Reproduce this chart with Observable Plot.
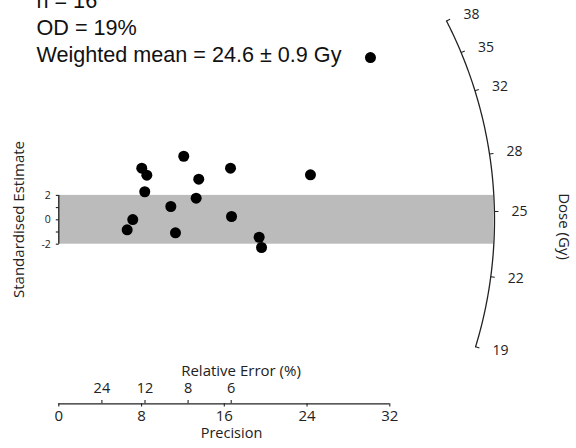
<!DOCTYPE html>
<html><head><meta charset="utf-8">
<script src="https://cdn.jsdelivr.net/npm/d3@7"></script>
<script src="https://cdn.jsdelivr.net/npm/@observablehq/plot@0.6"></script>
<style>body{margin:0;background:#fff} svg{display:block}</style>
</head><body><div id="chart"></div>
<script>
// ---- data ----
const precision = [6.61, 7.15, 8.02, 8.51, 8.31, 10.83, 11.28, 12.08, 13.53, 13.28, 16.6, 16.7, 19.37, 19.6, 24.33, 30.13];
const standardisedEstimate = [-0.82, 0.02, 4.23, 3.66, 2.30, 1.09, -1.07, 5.21, 3.33, 1.77, 4.23, 0.27, -1.43, -2.27, 3.69, 13.3];
const precisionTicks = [0, 8, 16, 24, 32];
const relErrorTicks = [24, 12, 8, 6];
const doseTicks = [19, 22, 25, 28, 32, 35, 38];
const stdTicks = [-2, -1, 0, 1, 2];
const stdTickLabels = [-2, 0, 2];
const centralDose = 24.6;
const bandLimit = 2;
const headerLines = ["n = 16", "OD = 19%", "Weighted mean = 24.6 \u00b1 0.9 Gy"];

// ---- layout ----
const W = 576, H = 448;
const xDomain = [0, 32], xRange = [58.3, 389.3];
const yDomain = [-2, 2], yRange = [243.7, 194.9];
const kx = (xRange[1] - xRange[0]) / (xDomain[1] - xDomain[0]);
const ky = (yRange[0] - yRange[1]) / (yDomain[1] - yDomain[0]);
const xOf = px => xDomain[0] + (px - xRange[0]) / kx;
const yOf = py => yDomain[0] + (yRange[0] - py) / ky;
const R = 435.7; // radius of the dose arc, px
const theta = d => Math.atan(Math.log(d / centralDose) * ky / kx);
const polar = (d, r) => ({x: r * Math.cos(theta(d)) / kx, y: r * Math.sin(theta(d)) / ky, d});

const points = precision.map((p, i) => ({x: p, y: standardisedEstimate[i]}));
const dMin = d3.min(doseTicks), dMax = d3.max(doseTicks);
const arc = d3.range(0, 121).map(i => polar(dMin * Math.pow(dMax / dMin, i / 120), R));
const doseTickSegs = doseTicks.map(d => ({a: polar(d, R), b: polar(d, R + 4)}));
const doseLabels = doseTicks.map(d => {
  const p = polar(d, R);
  return {x: p.x + 25 / kx, y: p.y + 14 * Math.sin(theta(d)) / ky, d};
});
const band = [{x1: 0, x2: Math.sqrt(R * R - (bandLimit * ky) ** 2) / kx, y1: -bandLimit, y2: bandLimit}];

const axisY0 = yOf(403.3);
const axisFont = "'Open Sans', 'Noto Sans', sans-serif";
const ink = "#222";

const chart = Plot.plot({
  width: W, height: H,
  marginTop: 0, marginRight: 0, marginBottom: 0, marginLeft: 0,
  x: {domain: xDomain, range: xRange, axis: null},
  y: {domain: yDomain, range: yRange, axis: null},
  style: {background: "#fff", overflow: "visible"},
  marks: [
    Plot.rect(band, {x1: "x1", x2: "x2", y1: "y1", y2: "y2", fill: "#bbbbbb"}),
    // y axis
    Plot.ruleX([0], {y1: -2, y2: 2, stroke: ink, strokeWidth: 1.3}),
    Plot.link(stdTicks, {x1: 0, x2: xOf(xRange[0] - 3), y1: d => d, y2: d => d, stroke: ink, strokeWidth: 1.1}),
    Plot.text(stdTickLabels, {x: 0, y: d => d, dx: -8, text: d => String(d), textAnchor: "end", fontSize: 10.5, fontFamily: axisFont, fill: ink}),
    Plot.text(["Standardised Estimate"], {x: xOf(19), y: yOf(219), rotate: -90, fontSize: 15, fontFamily: axisFont, fill: ink}),
    // precision / relative error axis
    Plot.ruleY([axisY0], {x1: xDomain[0], x2: xDomain[1], stroke: ink, strokeWidth: 1.3}),
    Plot.ruleX(precisionTicks, {x: d => d, y1: axisY0, y2: yOf(406.5), stroke: ink, strokeWidth: 1.1}),
    Plot.ruleX(relErrorTicks.map(r => 100 / r), {x: d => d, y1: axisY0, y2: yOf(400), stroke: ink, strokeWidth: 1.1}),
    Plot.text(precisionTicks, {x: d => d, y: axisY0, dy: 12.5, text: d => String(d), fontSize: 15, fontFamily: axisFont, fill: ink}),
    Plot.text(relErrorTicks, {x: d => 100 / d, y: axisY0, dy: -15, text: d => String(d), fontSize: 14.5, fontFamily: axisFont, fill: ink}),
    Plot.text(["Relative Error (%)"], {x: xOf(240.5), y: axisY0, dy: -33, fontSize: 15, fontFamily: axisFont, fill: ink}),
    Plot.text(["Precision"], {x: xOf(231), y: axisY0, dy: 30, fontSize: 14.5, fontFamily: axisFont, fill: ink}),
    // dose arc
    Plot.line(arc, {x: "x", y: "y", stroke: ink, strokeWidth: 1.3, curve: "linear"}),
    Plot.link(doseTickSegs, {x1: s => s.a.x, y1: s => s.a.y, x2: s => s.b.x, y2: s => s.b.y, stroke: ink, strokeWidth: 1.1}),
    Plot.text(doseLabels, {x: "x", y: "y", text: s => String(s.d), fontSize: 14, fontFamily: axisFont, fill: ink}),
    Plot.text(["Dose (Gy)"], {x: xOf(563), y: yOf(226), rotate: 90, fontSize: 15, fontFamily: axisFont, fill: ink}),
    // data
    Plot.dot(points, {x: "x", y: "y", r: 5.5, fill: "#000", stroke: "none"}),
    // header
    Plot.text(headerLines, {x: xOf(36), y: (d, i) => yOf(7 + 27 * i), text: d => d, textAnchor: "start", lineAnchor: "bottom", fontSize: 21.6, fontFamily: "'Liberation Sans', Arial, sans-serif", fill: "#111"})
  ]
});
document.getElementById("chart").appendChild(chart);
</script>
</body></html>
